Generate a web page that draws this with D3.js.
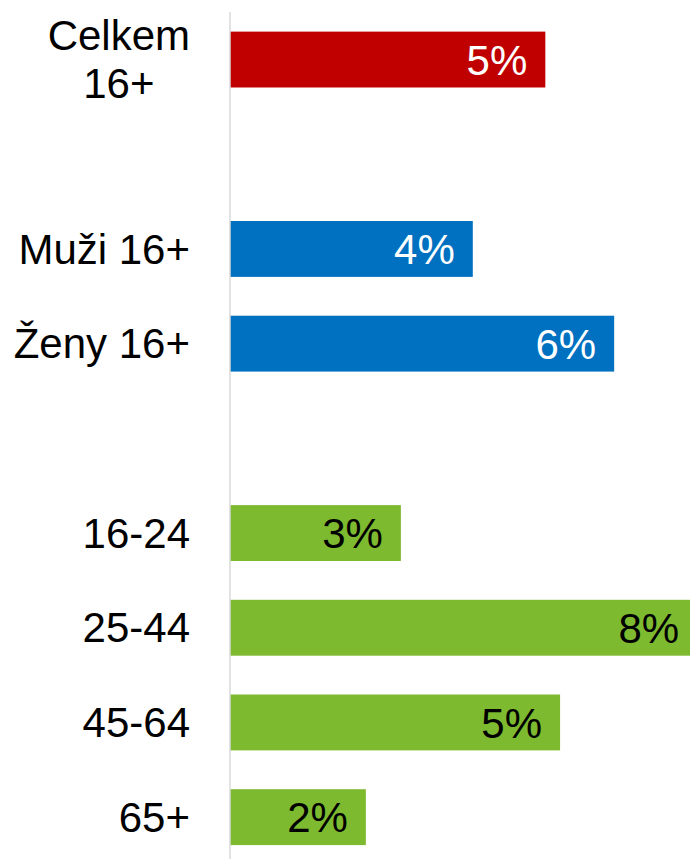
<!DOCTYPE html>
<html>
<head>
<meta charset="utf-8">
<script src="https://cdn.jsdelivr.net/npm/d3@7.9.0/dist/d3.min.js"></script>
<style>
  body { margin: 0; background: #fff; }
  svg { display: block; font-family: "Liberation Sans", Arial, sans-serif; }
</style>
</head>
<body>
<svg id="chart" width="690" height="859"></svg>
<script>
// Chart data
const categories = ['Celkem\n16+', 'Muži 16+', 'Ženy 16+', '16-24', '25-44', '45-64', '65+'];
const groups = ['total', 'sex', 'sex', 'age', 'age', 'age', 'age'];
const values = [5.13, 3.95, 6.25, 2.78, 7.6, 5.37, 2.21];

const groupColors = { total: '#c00000', sex: '#0070c0', age: '#7dba2f' };
const labelColors = { total: '#ffffff', sex: '#ffffff', age: '#000000' };

const width = 690;
const height = 859;
const fontSize = 42;

// Build band domain with an empty slot between groups
const slots = [];
categories.forEach((c, i) => {
  if (i > 0 && groups[i] !== groups[i - 1]) slots.push('gap-' + i);
  slots.push(c);
});

const data = categories.map((c, i) => ({ name: c, group: groups[i], value: values[i] }));

const y = d3.scaleBand()
  .domain(slots)
  .range([12.2, 864.5])
  .paddingInner(0.41)
  .paddingOuter(0.205);

const x = d3.scaleLinear()
  .domain([0, 7.5])
  .range([230, 691]);

const svg = d3.select('#chart');

// Bars
svg.selectAll('rect.bar')
  .data(data)
  .join('rect')
  .attr('class', 'bar')
  .attr('x', x(0))
  .attr('y', d => y(d.name))
  .attr('width', d => x(d.value) - x(0))
  .attr('height', y.bandwidth())
  .attr('fill', d => groupColors[d.group]);

// Vertical axis line
svg.append('line')
  .attr('x1', x(0)).attr('x2', x(0))
  .attr('y1', 12).attr('y2', height)
  .attr('stroke', '#d9d9d9')
  .attr('stroke-width', 1.5);

// Value labels inside the bar end
svg.selectAll('text.value')
  .data(data)
  .join('text')
  .attr('class', 'value')
  .attr('x', d => x(d.value) - 18)
  .attr('y', d => y(d.name) + y.bandwidth() / 2)
  .attr('dy', '0.36em')
  .attr('text-anchor', 'end')
  .attr('font-size', fontSize)
  .attr('fill', d => labelColors[d.group])
  .text(d => d3.format('.0f')(d.value) + '%');

// Category labels (multi-line ones are centred)
const labelRight = 190;
data.forEach(d => {
  const lines = d.name.split('\n');
  const cy = y(d.name) + y.bandwidth() / 2;
  const t = svg.append('text')
    .attr('font-size', fontSize)
    .attr('fill', '#000');
  const lineH = 1.15 * fontSize;
  lines.forEach((line, i) => {
    t.append('tspan')
      .attr('x', labelRight)
      .attr('y', cy + (i - (lines.length - 1) / 2) * lineH)
      .attr('dy', '0.35em')
      .text(line);
  });
  if (lines.length > 1) {
    const w = d3.max(t.selectAll('tspan').nodes(), n => n.getComputedTextLength());
    t.attr('text-anchor', 'middle');
    t.selectAll('tspan').attr('x', labelRight - w / 2);
  } else {
    t.attr('text-anchor', 'end');
  }
});
</script>
</body>
</html>
